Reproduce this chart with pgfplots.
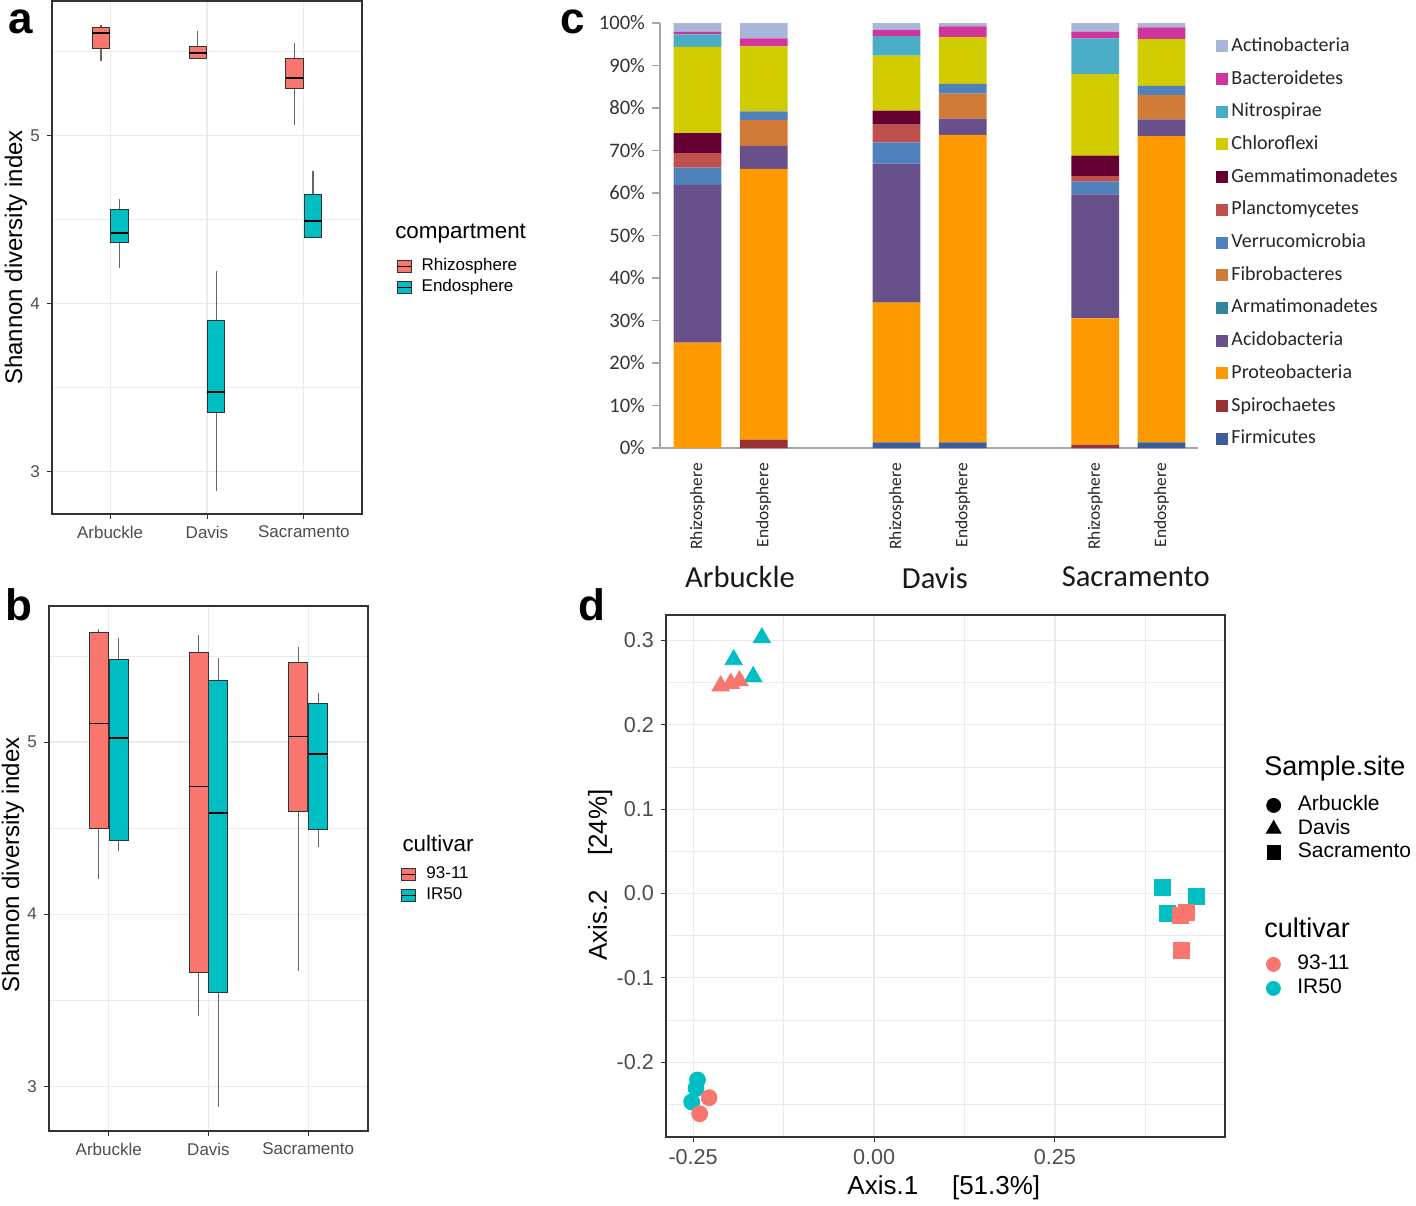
\documentclass[border=0pt]{standalone}
\usepackage{fontspec}
\setmainfont{Liberation Sans}
\newfontfamily\calibri{Carlito}
\usepackage{pgfplots}
\pgfplotsset{compat=1.18}
\usepackage{pgfplotstable}
\usepgfplotslibrary{statistics}

\definecolor{ggred}{HTML}{F8766D}
\definecolor{ggteal}{HTML}{00BFC4}
\definecolor{gridc}{HTML}{EBEBEB}
\definecolor{framec}{HTML}{333333}
\definecolor{ticktxt}{HTML}{4D4D4D}
\definecolor{cActino}{HTML}{AAB5DA}
\definecolor{cBact}{HTML}{D0359C}
\definecolor{cNitro}{HTML}{4BACC6}
\definecolor{cChloro}{HTML}{D0CC00}
\definecolor{cGemma}{HTML}{660033}
\definecolor{cPlanc}{HTML}{C0504D}
\definecolor{cVerru}{HTML}{4F81BD}
\definecolor{cFibro}{HTML}{D07B38}
\definecolor{cArmat}{HTML}{31859C}
\definecolor{cAcido}{HTML}{68508A}
\definecolor{cProteo}{HTML}{FF9900}
\definecolor{cSpiro}{HTML}{993333}
\definecolor{cFirm}{HTML}{3B5E9A}

\pgfplotstableread{
x Firm Spiro Proteo Acido Armat Fibro Verru Planc Gemma Chloro Nitro Bact Actino
0 0    0    24.8  37.1  0 0   4.1 3.4 4.7 20.3 2.9 0.6 2.1
1 0    2.0  63.7  5.4   0 6.1 2.0 0   0   15.3 0   1.9 3.6
3 1.35 0    32.85 32.7  0 0   5.0 4.2 3.3 12.9 4.6 1.5 1.6
4 1.35 0    72.35 3.8   0 5.9 2.3 0   0   11.0 0   2.5 0.8
6 0    0.8  29.7  29.2  0 0   3.0 1.3 4.8 19.2 8.4 1.6 2.0
7 1.3  0    72.1  3.9   0 5.8 2.1 0   0   11.0 0   2.8 1.0
}\tabc

\pgfplotsset{
  ggbw/.style={
    scale only axis,
    axis line style={framec, line width=0.6pt},
    xmin=0.4, xmax=3.6, ymin=2.745, ymax=5.80,
    xtick={1,2,3}, xticklabels={Arbuckle,Davis,Sacramento},
    ytick={3,4,5}, minor ytick={3.5,4.5,5.5},
    grid=both,
    major grid style={gridc, line width=0.6pt},
    minor grid style={gridc, line width=0.3pt},
    tick align=outside, tick pos=left,
    major tick length=2.5pt, minor tick length=0pt,
    tick style={framec, line width=0.5pt},
    ticklabel style={font=\fontsize{8.5}{8.5}\selectfont, text=ticktxt},
    /pgf/number format/assume math mode=true,
    ylabel={Shannon diversity index},
    ylabel style={font=\fontsize{12}{12}\selectfont, anchor=center},
    boxplot/draw direction=y,
    boxplot/every whisker/.style={black!60, line width=0.6pt},
    boxplot/every median/.style={black, line width=0.9pt},
    legend image code/.code={\draw[##1] (0pt,-3pt) rectangle (7pt,3pt); \draw[black, line width=0.6pt] (0pt,0pt) -- (7pt,0pt);},
    legend cell align=left,
  },
}

\begin{document}
\begin{tikzpicture}
\path[use as bounding box] (0,0) rectangle (708pt,-602.5pt);

% ---------------- panel a ----------------
\begin{axis}[ggbw, at={(26pt,-0.5pt)}, anchor=north west,
  width=155pt, height=256.5pt,
  ylabel style={at={(axis description cs:-0.116,0.5)}},
  legend style={at={(1.11,0.504)}, anchor=north west, draw=none, fill=none, inner sep=0pt,
    font=\fontsize{8.5}{8.5}\selectfont, nodes={inner sep=1pt, text height=6.5pt, text depth=2pt},
    row sep=0pt, column sep=4pt},
  clip=false]
\addplot+[forget plot, mark=none, fill=ggred, draw=framec, solid, line width=0.5pt,
  boxplot prepared={draw position=0.905, box extend=0.18, whisker extend=0,
  lower whisker=5.44, lower quartile=5.52, median=5.61, upper quartile=5.64, upper whisker=5.66}] coordinates {};
\addplot+[forget plot, mark=none, fill=ggred, draw=framec, solid, line width=0.5pt,
  boxplot prepared={draw position=1.905, box extend=0.18, whisker extend=0,
  lower whisker=5.46, lower quartile=5.46, median=5.49, upper quartile=5.53, upper whisker=5.62}] coordinates {};
\addplot+[forget plot, mark=none, fill=ggred, draw=framec, solid, line width=0.5pt,
  boxplot prepared={draw position=2.905, box extend=0.18, whisker extend=0,
  lower whisker=5.06, lower quartile=5.28, median=5.34, upper quartile=5.46, upper whisker=5.55}] coordinates {};
\addplot+[forget plot, mark=none, fill=ggteal, draw=framec, solid, line width=0.5pt,
  boxplot prepared={draw position=1.095, box extend=0.18, whisker extend=0,
  lower whisker=4.21, lower quartile=4.36, median=4.42, upper quartile=4.56, upper whisker=4.62}] coordinates {};
\addplot+[forget plot, mark=none, fill=ggteal, draw=framec, solid, line width=0.5pt,
  boxplot prepared={draw position=2.095, box extend=0.18, whisker extend=0,
  lower whisker=2.88, lower quartile=3.35, median=3.47, upper quartile=3.90, upper whisker=4.19}] coordinates {};
\addplot+[forget plot, mark=none, fill=ggteal, draw=framec, solid, line width=0.5pt,
  boxplot prepared={draw position=3.095, box extend=0.18, whisker extend=0,
  lower whisker=4.39, lower quartile=4.39, median=4.49, upper quartile=4.65, upper whisker=4.79}] coordinates {};
\addlegendimage{fill=ggred, draw=framec, line width=0.4pt}
\addlegendentry{Rhizosphere}
\addlegendimage{fill=ggteal, draw=framec, line width=0.4pt}
\addlegendentry{Endosphere}
\node[anchor=west, font=\fontsize{11.2}{11.2}\selectfont, inner sep=0pt] at (axis description cs:1.106,0.546) {compartment};
\end{axis}

% ---------------- panel b ----------------
\begin{axis}[ggbw, at={(24.5pt,-303pt)}, anchor=north west,
  width=159.5pt, height=262.5pt,
  ymin=2.74, ymax=5.79,
  ylabel style={at={(axis description cs:-0.113,0.507)}},
  legend style={at={(1.103,0.5095)}, anchor=north west, draw=none, fill=none, inner sep=0pt,
    font=\fontsize{8.5}{8.5}\selectfont, nodes={inner sep=1pt, text height=6.5pt, text depth=2pt},
    row sep=0pt, column sep=4pt},
  clip=false]
\addplot+[forget plot, mark=none, fill=ggred, draw=framec, solid, line width=0.5pt,
  boxplot prepared={draw position=0.9, box extend=0.19, whisker extend=0,
  lower whisker=4.205, lower quartile=4.50, median=5.107, upper quartile=5.637, upper whisker=5.655}] coordinates {};
\addplot+[forget plot, mark=none, fill=ggred, draw=framec, solid, line width=0.5pt,
  boxplot prepared={draw position=1.9, box extend=0.19, whisker extend=0,
  lower whisker=3.406, lower quartile=3.662, median=4.742, upper quartile=5.518, upper whisker=5.62}] coordinates {};
\addplot+[forget plot, mark=none, fill=ggred, draw=framec, solid, line width=0.5pt,
  boxplot prepared={draw position=2.9, box extend=0.19, whisker extend=0,
  lower whisker=3.669, lower quartile=4.598, median=5.032, upper quartile=5.461, upper whisker=5.553}] coordinates {};
\addplot+[forget plot, mark=none, fill=ggteal, draw=framec, solid, line width=0.5pt,
  boxplot prepared={draw position=1.1, box extend=0.19, whisker extend=0,
  lower whisker=4.365, lower quartile=4.427, median=5.025, upper quartile=5.477, upper whisker=5.605}] coordinates {};
\addplot+[forget plot, mark=none, fill=ggteal, draw=framec, solid, line width=0.5pt,
  boxplot prepared={draw position=2.1, box extend=0.19, whisker extend=0,
  lower whisker=2.881, lower quartile=3.543, median=4.587, upper quartile=5.356, upper whisker=5.49}] coordinates {};
\addplot+[forget plot, mark=none, fill=ggteal, draw=framec, solid, line width=0.5pt,
  boxplot prepared={draw position=3.1, box extend=0.19, whisker extend=0,
  lower whisker=4.388, lower quartile=4.491, median=4.932, upper quartile=5.226, upper whisker=5.285}] coordinates {};
\addlegendimage{fill=ggred, draw=framec, line width=0.4pt}
\addlegendentry{93-11}
\addlegendimage{fill=ggteal, draw=framec, line width=0.4pt}
\addlegendentry{IR50}
\node[anchor=west, font=\fontsize{11.2}{11.2}\selectfont, inner sep=0pt] at (axis description cs:1.107,0.5486) {cultivar};
\end{axis}

% ---------------- panel c ----------------
\begin{axis}[at={(330pt,-11.5pt)}, anchor=north west,
  scale only axis, width=269pt, height=212.5pt,
  ybar stacked, bar width=0.72,
  xmin=-0.566, xmax=7.55, ymin=0, ymax=100,
  axis x line*=bottom, axis y line*=left,
  axis line style={gray!70, line width=0.6pt, -},
  xtick={0,1,3,4,6,7},
  xticklabels={Rhizosphere,Endosphere,Rhizosphere,Endosphere,Rhizosphere,Endosphere},
  x tick label style={rotate=90, anchor=east, font=\calibri\fontsize{8.7}{8.7}\selectfont, text=black!85},
  xtick style={draw=none},
  ytick={0,10,20,30,40,50,60,70,80,90,100},
  yticklabels={0\%,10\%,20\%,30\%,40\%,50\%,60\%,70\%,80\%,90\%,100\%},
  y tick label style={font=\calibri\fontsize{10.3}{10.3}\selectfont, text=black!80},
  tick align=outside, major tick length=4pt,
  ytick style={gray!70, line width=0.6pt},
  clip=false,
  legend image code/.code={\fill[#1] (0pt,-3pt) rectangle (6pt,3pt);},
  reverse legend, legend cell align=left,
  legend style={at={(1.0335,0.9718)}, anchor=north west, draw=none, fill=none, inner sep=0pt,
    font=\calibri\fontsize{10}{10}\selectfont, text=black!85,
    nodes={inner sep=1pt, text height=7pt, text depth=2pt},
    row sep=5.35pt, column sep=0.5pt},
  ]
\addplot[fill=cFirm, draw=none] table[x=x, y=Firm]{\tabc};
\addlegendentry{Firmicutes}
\addplot[fill=cSpiro, draw=none] table[x=x, y=Spiro]{\tabc};
\addlegendentry{Spirochaetes}
\addplot[fill=cProteo, draw=none] table[x=x, y=Proteo]{\tabc};
\addlegendentry{Proteobacteria}
\addplot[fill=cAcido, draw=none] table[x=x, y=Acido]{\tabc};
\addlegendentry{Acidobacteria}
\addplot[fill=cArmat, draw=none] table[x=x, y=Armat]{\tabc};
\addlegendentry{Armatimonadetes}
\addplot[fill=cFibro, draw=none] table[x=x, y=Fibro]{\tabc};
\addlegendentry{Fibrobacteres}
\addplot[fill=cVerru, draw=none] table[x=x, y=Verru]{\tabc};
\addlegendentry{Verrucomicrobia}
\addplot[fill=cPlanc, draw=none] table[x=x, y=Planc]{\tabc};
\addlegendentry{Planctomycetes}
\addplot[fill=cGemma, draw=none] table[x=x, y=Gemma]{\tabc};
\addlegendentry{Gemmatimonadetes}
\addplot[fill=cChloro, draw=none] table[x=x, y=Chloro]{\tabc};
\addlegendentry{Chloroflexi}
\addplot[fill=cNitro, draw=none] table[x=x, y=Nitro]{\tabc};
\addlegendentry{Nitrospirae}
\addplot[fill=cBact, draw=none] table[x=x, y=Bact]{\tabc};
\addlegendentry{Bacteroidetes}
\addplot[fill=cActino, draw=none] table[x=x, y=Actino]{\tabc};
\addlegendentry{Actinobacteria}
\node[font=\calibri\fontsize{15.3}{15.3}\selectfont, text=black!90] at (axis cs:0.64,-30.4) {Arbuckle};
\node[font=\calibri\fontsize{15.3}{15.3}\selectfont, text=black!90] at (axis cs:3.58,-30.6) {Davis};
\node[font=\calibri\fontsize{15.3}{15.3}\selectfont, text=black!90] at (axis cs:6.61,-30.2) {Sacramento};
\end{axis}

% ---------------- panel d ----------------
\begin{axis}[at={(333pt,-307.5pt)}, anchor=north west,
  scale only axis, width=279.5pt, height=261pt,
  xmin=-0.2875, xmax=0.485, ymin=-0.2886, ymax=0.33,
  axis line style={framec, line width=0.6pt},
  xtick={-0.25,0,0.25}, xticklabels={-0.25,0.00,0.25},
  minor xtick={-0.125,0.125,0.375},
  ytick={-0.2,-0.1,0,0.1,0.2,0.3}, yticklabels={-0.2,-0.1,0.0,0.1,0.2,0.3},
  minor ytick={-0.25,-0.15,-0.05,0.05,0.15,0.25},
  grid=both,
  major grid style={gridc, line width=0.6pt},
  minor grid style={gridc, line width=0.3pt},
  tick align=outside, tick pos=left,
  major tick length=2.5pt, minor tick length=0pt,
  tick style={framec, line width=0.5pt},
  ticklabel style={font=\fontsize{10.8}{10.8}\selectfont, text=ticktxt},
  xlabel={Axis.1\hspace{1.3em}[51.3\%]},
  ylabel={Axis.2\hspace{1.3em}[24\%]},
  xlabel style={font=\fontsize{13}{13}\selectfont, at={(axis description cs:0.497,-0.0977)}, anchor=center},
  ylabel style={font=\fontsize{13}{13}\selectfont, at={(axis description cs:-0.118,0.502)}, anchor=center},
  clip=false,
  legend image code/.code={\draw[mark repeat=2, mark phase=2, #1] plot coordinates {(0pt,0pt) (4pt,0pt) (8pt,0pt)};},
  legend cell align=left,
  legend style={at={(1.0733,0.6585)}, anchor=north west, draw=none, fill=none, inner sep=0pt,
    font=\fontsize{10.5}{10.5}\selectfont,
    nodes={inner sep=1pt, text height=7.5pt, text depth=2.25pt},
    row sep=0pt, column sep=7.5pt},
  ]
\addplot[forget plot, only marks, mark=triangle*, mark size=5pt, color=ggteal]
  coordinates {(-0.155,0.303) (-0.194,0.277) (-0.167,0.257)};
\addplot[forget plot, only marks, mark=triangle*, mark size=5pt, color=ggred]
  coordinates {(-0.212,0.246) (-0.198,0.249) (-0.186,0.252)};
\addplot[forget plot, only marks, mark=*, mark size=4pt, color=ggteal]
  coordinates {(-0.244,-0.221) (-0.246,-0.231) (-0.252,-0.247)};
\addplot[forget plot, only marks, mark=*, mark size=4pt, color=ggred]
  coordinates {(-0.228,-0.242) (-0.241,-0.261)};
\addplot[forget plot, only marks, mark=square*, mark size=4pt, color=ggteal]
  coordinates {(0.398,0.007) (0.446,-0.003) (0.405,-0.024)};
\addplot[forget plot, only marks, mark=square*, mark size=4pt, color=ggred]
  coordinates {(0.424,-0.026) (0.432,-0.022) (0.425,-0.067)};
\addlegendimage{only marks, mark=*, black, mark size=3.5pt}
\addlegendentry{Arbuckle}
\addlegendimage{only marks, mark=triangle*, black, mark size=4.2pt}
\addlegendentry{Davis}
\addlegendimage{only marks, mark=square*, black, mark size=3.3pt}
\addlegendentry{Sacramento}
\node[anchor=west, font=\fontsize{13.5}{13.5}\selectfont, inner sep=0pt] at (axis description cs:1.0698,0.7069) {Sample.site};
\node[anchor=west, font=\fontsize{13.5}{13.5}\selectfont, inner sep=0pt] at (axis description cs:1.0698,0.4004) {cultivar};
\end{axis}

% second legend for panel d (cultivar)
\begin{axis}[at={(333pt,-307.5pt)}, anchor=north west,
  scale only axis, width=279.5pt, height=261pt,
  xmin=0, xmax=1, ymin=0, ymax=1, hide axis,
  legend image code/.code={\draw[mark repeat=2, mark phase=2, #1] plot coordinates {(0pt,0pt) (4pt,0pt) (8pt,0pt)};},
  legend cell align=left,
  legend style={at={(1.0733,0.3544)}, anchor=north west, draw=none, fill=none, inner sep=0pt,
    font=\fontsize{10.5}{10.5}\selectfont,
    nodes={inner sep=1pt, text height=7.5pt, text depth=2.5pt},
    row sep=0pt, column sep=7.5pt},
  ]
\addlegendimage{only marks, mark=*, ggred, mark size=3.5pt}
\addlegendentry{93-11}
\addlegendimage{only marks, mark=*, ggteal, mark size=3.5pt}
\addlegendentry{IR50}
\end{axis}

% panel letters
\node[anchor=base west, font=\fontsize{22}{22}\selectfont\bfseries, inner sep=0pt] at (4pt,-16.5pt) {a};
\node[anchor=base west, font=\fontsize{22}{22}\selectfont\bfseries, inner sep=0pt] at (2.5pt,-310pt) {b};
\node[anchor=base west, font=\fontsize{22}{22}\selectfont\bfseries, inner sep=0pt] at (280pt,-16.5pt) {c};
\node[anchor=base west, font=\fontsize{22}{22}\selectfont\bfseries, inner sep=0pt] at (289pt,-310pt) {d};
\end{tikzpicture}
\end{document}
